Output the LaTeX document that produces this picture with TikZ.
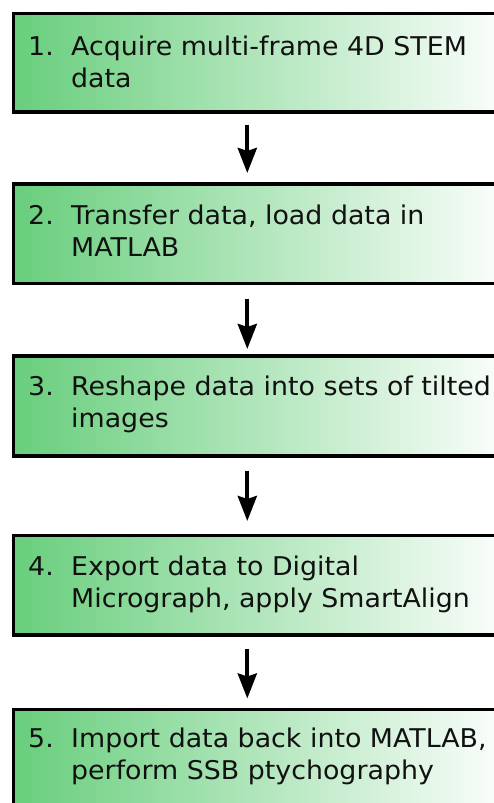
\documentclass[tikz,border=0pt]{standalone}
\usepackage{fontspec}
\setmainfont{DejaVu Sans}[FakeStretch=1.04]
\usetikzlibrary{arrows.meta}
\definecolor{boxgreen}{RGB}{104,206,124}
\definecolor{txt}{RGB}{17,17,17}
\tikzset{
  stepbox/.style={rectangle, draw=black, line width=3.5pt, left color=boxgreen, right color=white,
    inner sep=0pt, anchor=north west, minimum width=505pt},
  numtxt/.style={anchor=base west, inner sep=0pt, text=txt, font=\fontsize{25.8}{32}\selectfont},
  bodytxt/.style={anchor=base west, inner sep=0pt, text=txt, font=\fontsize{25.8}{32}\selectfont},
  flow/.style={-{Stealth[length=25pt,width=19pt,inset=3pt]}, line width=4pt}
}
\newcommand{\steptext}[2]{\parbox[t]{440pt}{\raggedright #1\\#2}}
\begin{document}
\begin{tikzpicture}[x=1pt,y=-1pt]
\useasboundingbox (0,0) rectangle (494,803);
\clip (0,0) rectangle (494,803);
\fill[white] (0,0) rectangle (494,803);

\node[stepbox, minimum height=98.5pt] (b1) at (11.5,11.5) {};
\node[stepbox, minimum height=99.5pt] (b2) at (11.5,182) {};
\node[stepbox, minimum height=100pt] (b3) at (11.5,354) {};
\node[stepbox, minimum height=99.5pt] (b4) at (11.5,533.5) {};
\node[stepbox, minimum height=130pt] (b5) at (11.5,707.5) {};

\node[numtxt] (n1) at (28,55) {1.};
\node[bodytxt] (t1) at (71,55) {\steptext{Acquire multi-frame 4D STEM}{data}};
\node[numtxt] (n2) at (28,224.5) {2.};
\node[bodytxt] (t2) at (71,224.5) {\steptext{Transfer data, load data in}{MATLAB}};
\node[numtxt] (n3) at (28,395.5) {3.};
\node[bodytxt] (t3) at (71,395.5) {\steptext{Reshape data into sets of tilted}{images}};
\node[numtxt] (n4) at (28,575.5) {4.};
\node[bodytxt] (t4) at (71,575.5) {\steptext{Export data to Digital}{Micrograph, apply SmartAlign}};
\node[numtxt] (n5) at (28,747) {5.};
\node[bodytxt] (t5) at (71,747) {\steptext{Import data back into MATLAB,}{perform SSB ptychography}};

\draw[flow, shorten <=11pt, shorten >=9pt] ([xshift=235.8pt]b1.south west) -- ([xshift=235.8pt]b2.north west);
\draw[flow, shorten <=13.5pt, shorten >=5pt] ([xshift=235.8pt]b2.south west) -- ([xshift=235.8pt]b3.north west);
\draw[flow, shorten <=13pt, shorten >=12.5pt] ([xshift=235.8pt]b3.south west) -- ([xshift=235.8pt]b4.north west);
\draw[flow, shorten <=12pt, shorten >=9pt] ([xshift=235.8pt]b4.south west) -- ([xshift=235.8pt]b5.north west);
\end{tikzpicture}
\end{document}
